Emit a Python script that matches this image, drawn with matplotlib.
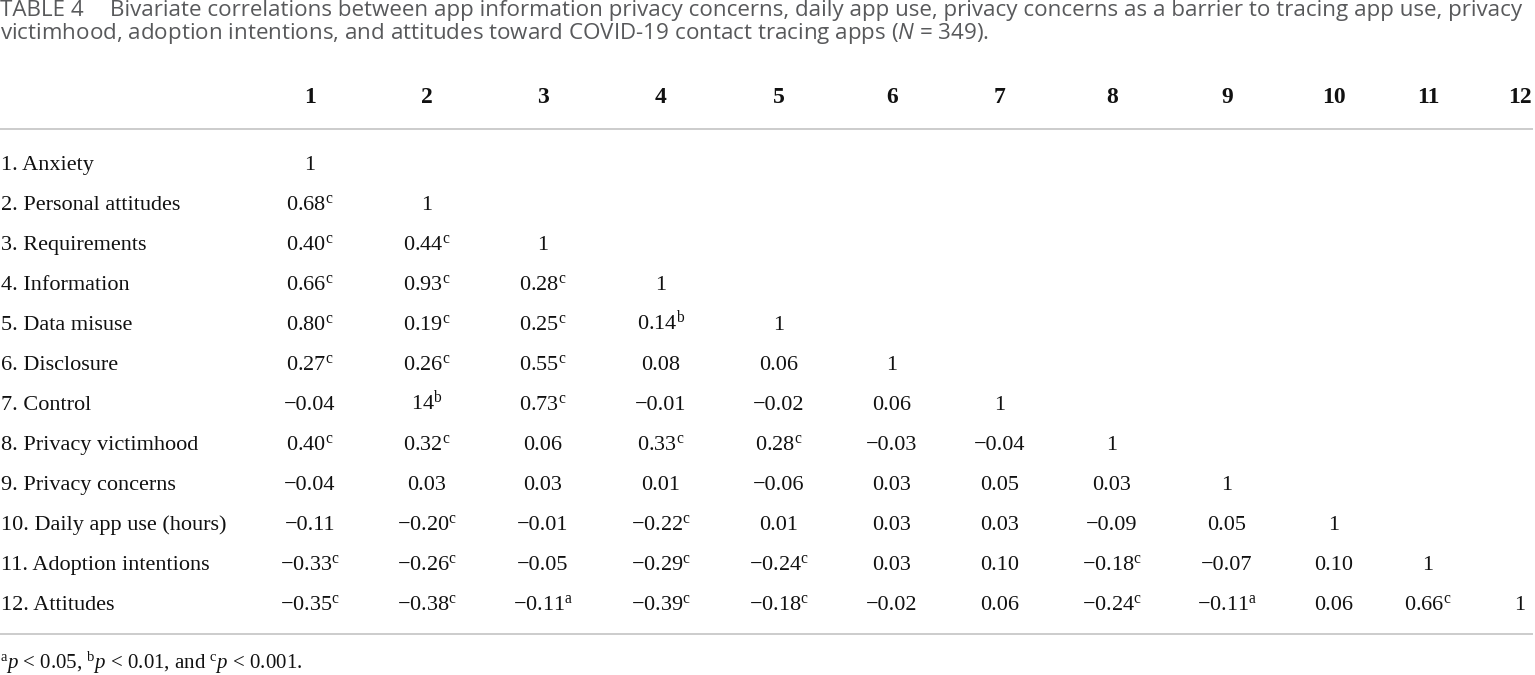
import matplotlib
matplotlib.use("Agg")
import matplotlib.pyplot as plt

plt.rcParams['mathtext.fontset'] = 'custom'
plt.rcParams['mathtext.rm'] = 'Liberation Serif'
plt.rcParams['mathtext.it'] = 'Liberation Serif:italic'
plt.rcParams['mathtext.sf'] = 'Open Sans:italic'

# ---------------- data ----------------
title_label = "TABLE 4"
title_line1 = ("Bivariate correlations between app information privacy concerns, daily app use, "
               "privacy concerns as a barrier to tracing app use, privacy")
title_line2 = ("victimhood, adoption intentions, and attitudes toward COVID-19 contact "
               "tracing apps ($\\mathsf{N}$ = 349).")

col_headers = ["1", "2", "3", "4", "5", "6", "7", "8", "9", "10", "11", "12"]

row_labels = [
    "1. Anxiety",
    "2. Personal attitudes",
    "3. Requirements",
    "4. Information",
    "5. Data misuse",
    "6. Disclosure",
    "7. Control",
    "8. Privacy victimhood",
    "9. Privacy concerns",
    "10. Daily app use (hours)",
    "11. Adoption intentions",
    "12. Attitudes",
]

corr_values = [
    ["1"],
    ["0.68", "1"],
    ["0.40", "0.44", "1"],
    ["0.66", "0.93", "0.28", "1"],
    ["0.80", "0.19", "0.25", "0.14", "1"],
    ["0.27", "0.26", "0.55", "0.08", "0.06", "1"],
    ["\u22120.04", "14", "0.73", "\u22120.01", "\u22120.02", "0.06", "1"],
    ["0.40", "0.32", "0.06", "0.33", "0.28", "\u22120.03", "\u22120.04", "1"],
    ["\u22120.04", "0.03", "0.03", "0.01", "\u22120.06", "0.03", "0.05", "0.03", "1"],
    ["\u22120.11", "\u22120.20", "\u22120.01", "\u22120.22", "0.01", "0.03", "0.03",
     "\u22120.09", "0.05", "1"],
    ["\u22120.33", "\u22120.26", "\u22120.05", "\u22120.29", "\u22120.24", "0.03", "0.10",
     "\u22120.18", "\u22120.07", "0.10", "1"],
    ["\u22120.35", "\u22120.38", "\u22120.11", "\u22120.39", "\u22120.18", "\u22120.02", "0.06",
     "\u22120.24", "\u22120.11", "0.06", "0.66", "1"],
]

corr_sig = [
    [""],
    ["c", ""],
    ["c", "c", ""],
    ["c", "c", "c", ""],
    ["c", "c", "c", "b", ""],
    ["c", "c", "c", "", "", ""],
    ["", "b", "c", "", "", "", ""],
    ["c", "c", "", "c", "c", "", "", ""],
    ["", "", "", "", "", "", "", "", ""],
    ["", "c", "", "c", "", "", "", "", "", ""],
    ["c", "c", "", "c", "c", "", "", "c", "", "", ""],
    ["c", "c", "a", "c", "c", "", "", "c", "a", "", "c", ""],
]

footnote = ("$^{\\mathrm{a}}p$ < 0.05, $^{\\mathrm{b}}p$ < 0.01, "
            "and $^{\\mathrm{c}}p$ < 0.001.")

# ---------------- layout ----------------
W, H = 1535, 675
fig = plt.figure(figsize=(W / 100, H / 100), dpi=100)
ax = fig.add_axes([0, 0, 1, 1])
ax.set_xlim(0, W)
ax.set_ylim(H, 0)
ax.axis("off")

col_x = [310, 427, 543, 661, 779, 892, 1000, 1112, 1227, 1334, 1428, 1520]
header_y = 103
row_y0, row_dy = 170, 40
serif = "Liberation Serif"
body_fs = 16
title_color = "#58595b"
rule_color = "#c8c8c8"
title_font = "Open Sans"

# title (fit first line to its width in the reference)
t_lab = ax.text(0, 16, title_label, fontsize=12, family=title_font, color=title_color,
                va="baseline", ha="left", fontweight="medium")
t1 = ax.text(110, 16, title_line1, fontsize=12, family=title_font, color=title_color,
             va="baseline", ha="left", fontweight="medium")
t2 = ax.text(0, 39, title_line2, fontsize=12, family=title_font, color=title_color,
             va="baseline", ha="left", fontweight="medium")
fig.canvas.draw()
r = fig.canvas.get_renderer()
w1 = t1.get_window_extent(r).width
fs = 12 * 1401 / w1
for t in (t_lab, t1, t2):
    t.set_fontsize(fs)

# header
for x, h in zip(col_x, col_headers):
    ax.text(x, header_y, h, fontsize=17, fontweight="bold", family=serif,
            ha="center", va="baseline", color="#111111")

ax.plot([0, 1533], [129, 129], color=rule_color, lw=1.3, solid_capstyle="butt")

# body
for i, (lab, vals, sigs) in enumerate(zip(row_labels, corr_values, corr_sig)):
    y = row_y0 + i * row_dy
    ax.text(1, y, lab, fontsize=body_fs, family=serif, ha="left", va="baseline",
            color="#111111")
    for j, (v, s) in enumerate(zip(vals, sigs)):
        txt = v + ("$^{\\mathrm{%s}}$" % s if s else "")
        ax.text(col_x[j], y, txt, fontsize=body_fs, family=serif, ha="center",
                va="baseline", color="#111111")

ax.plot([0, 1533], [634, 634], color=rule_color, lw=1.3, solid_capstyle="butt")

ax.text(0, 669, footnote, fontsize=15, family=serif, ha="left", va="baseline",
        color="#111111")

fig.savefig("out.png", dpi=100)
